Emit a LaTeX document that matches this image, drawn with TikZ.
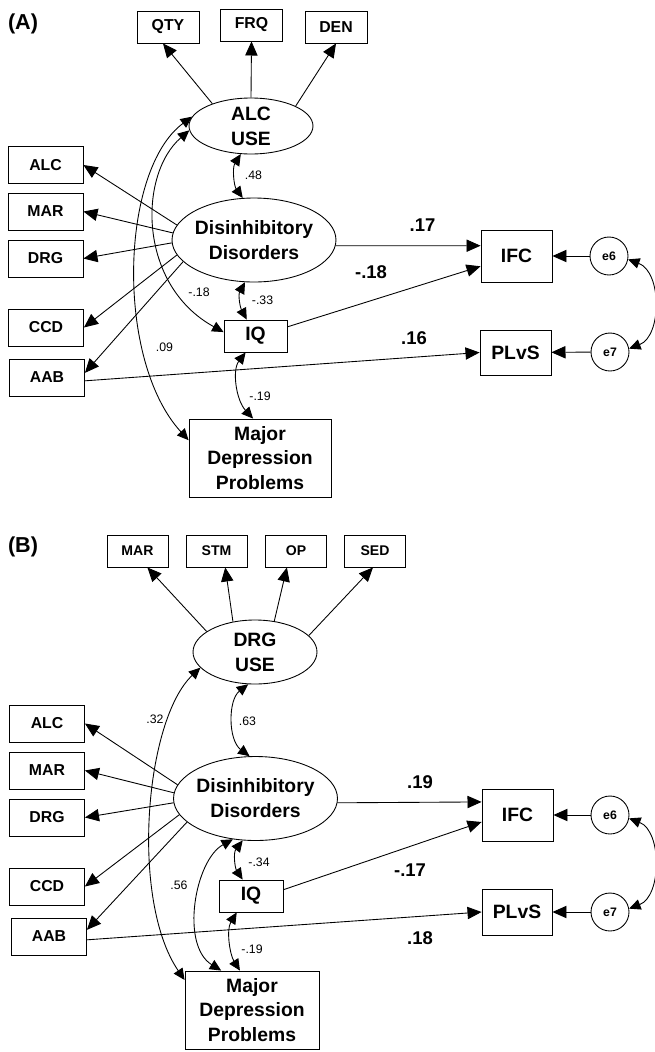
\documentclass[tikz,border=0pt]{standalone}
\usepackage{fontspec}
\setmainfont{Liberation Sans}
\usetikzlibrary{arrows.meta,shapes.geometric}

\tikzset{
  ttl/.style={font=\fontsize{12.3}{14}\selectfont\bfseries, inner sep=0pt},
  obs/.style={draw, rectangle, inner sep=0pt, minimum width=1.5cm, minimum height=0.74cm, font=\fontsize{9}{11}\selectfont\bfseries},
  big/.style={draw, rectangle, inner sep=0pt, align=center, font=\fontsize{11}{13.8}\selectfont\bfseries},
  lat/.style={draw, ellipse, inner sep=-2pt, align=center, font=\fontsize{11}{14.3}\selectfont\bfseries},
  err/.style={draw, circle, inner sep=0pt, minimum size=0.76cm, font=\fontsize{7}{8}\selectfont\bfseries},
  reg/.style={-{Triangle[length=8pt,width=7pt]}},
  cov/.style={{Triangle[length=6.5pt,width=6pt]}-{Triangle[length=6.5pt,width=6pt]}},
  coef/.style={font=\fontsize{10.5}{12}\selectfont\bfseries, inner sep=0pt},
  corr/.style={font=\fontsize{7}{8}\selectfont, inner sep=0pt}
}

\begin{document}
\begin{tikzpicture}[x=0.02cm, y=-0.02cm, line width=0.5pt]
\useasboundingbox (0,0) rectangle (654,1052);

% (A)
\node (labA) at (23,24) [ttl] {(A)};
\foreach \n/\t/\x/\y in {qtyA/QTY/168/27, frqA/FRQ/251.5/25, denA/DEN/336/27}
    \node (\n) at (\x,\y) [obs, minimum width=1.24cm, minimum height=0.64cm] {\t};
\node (alcA) at (251,126) [lat, minimum width=2.48cm, minimum height=1.12cm] {ALC\\USE};
\node (disA) at (254,240) [lat, minimum width=3.28cm, minimum height=1.68cm] {Disinhibitory\\Disorders};
\foreach \n/\t/\x/\y in {alcLA/ALC/45.5/165, marLA/MAR/45.5/211.5, drgLA/DRG/45.5/258.5, ccdLA/CCD/46/327.5, aabLA/AAB/47/377.5}
    \node (\n) at (\x,\y) [obs] {\t};
\node (iqA) at (255.5,336) [big, minimum width=1.26cm, minimum height=0.64cm] {IQ};
\node (mdpA) at (260,458) [big, minimum width=2.84cm, minimum height=1.56cm] {Major\\Depression\\Problems};
\node (ifcA) at (516.5,256) [big, minimum width=1.42cm, minimum height=1.04cm] {IFC};
\node (plvsA) at (515.5,352.5) [big, minimum width=1.42cm, minimum height=0.9cm] {PLvS};
\node (e6A) at (609,256) [err] {e6};
\node (e7A) at (610,352) [err] {e7};

\draw [reg] (alcA.150) -- (qtyA.253);
\draw [reg] (alcA.north) -- (frqA.south);
\draw [reg] (alcA.24) -- (denA.south);
\foreach \ang/\tgt in {169/alcLA.east, 175/marLA.east, 182/drgLA.east, 191/ccdLA.east, 197/aabLA.7}
    \draw [reg] (disA.\ang) -- (\tgt);
\draw [reg] (disA.-4) -- (ifcA.164);
\draw [reg] (iqA.16) -- (ifcA.196);
\draw [reg] (aabLA.-5) -- (plvsA.west);
\draw [reg] (e6A) -- (ifcA);
\draw [reg] (e7A) -- (plvsA);

\draw [cov] (alcA.250) .. controls (232,168) and (234,186) .. (disA.105);
\draw [cov] (disA.258) .. controls (238,295) and (240,307) .. (iqA.118);
\draw [cov] (iqA.239) .. controls (232,370) and (236,400) .. (mdpA.100);
\draw [cov] (alcA.184) .. controls (138,175) and (138,285) .. (iqA.173);
\draw [cov] (alcA.171) .. controls (120,170) and (115,360) .. (mdpA.166);
\draw [cov] (e6A.-10) .. controls (662,272) and (662,336) .. (e7A.10);

\node (c48A) at (253.5,175) [corr] {.48};
\node (c33A) at (262.5,300) [corr] {-.33};
\node (c18A) at (199,292) [corr] {-.18};
\node (c09A) at (164.5,347) [corr] {.09};
\node (c19A) at (260,396) [corr] {-.19};
\node (r17A) at (422.5,225) [coef] {.17};
\node (r18A) at (371,272) [coef] {-.18};
\node (r16A) at (414,338) [coef] {.16};

% (B)
\node (labB) at (23,547) [ttl] {(B)};
\foreach \n/\t/\x in {marTB/MAR/137.5, stmB/STM/216.5, opB/OP/296, sedB/SED/375}
    \node (\n) at (\x,551) [obs, minimum width=1.22cm, minimum height=0.64cm, font=\fontsize{8}{10}\selectfont\bfseries] {\t};
\node (drgB) at (255,652) [lat, minimum width=2.48cm, minimum height=1.28cm] {DRG\\USE};
\node (disB) at (255.5,798.5) [lat, minimum width=3.28cm, minimum height=1.68cm] {Disinhibitory\\Disorders};
\foreach \n/\t/\x/\y in {alcLB/ALC/47/723.5, marLB/MAR/47/770.5, drgLB/DRG/47/817.5, ccdLB/CCD/47/886.5, aabLB/AAB/49/936.5}
    \node (\n) at (\x,\y) [obs] {\t};
\node (iqB) at (251,896) [big, minimum width=1.28cm, minimum height=0.64cm] {IQ};
\node (mdpB) at (252,1010) [big, minimum width=2.68cm, minimum height=1.56cm] {Major\\Depression\\Problems};
\node (ifcB) at (517.5,815) [big, minimum width=1.42cm, minimum height=1.04cm] {IFC};
\node (plvsB) at (517,912) [big, minimum width=1.4cm, minimum height=0.92cm] {PLvS};
\node (e6B) at (610,815) [err] {e6};
\node (e7B) at (610,912) [err] {e7};

\draw [reg] (drgB.157) -- (marTB.301);
\draw [reg] (drgB.126) -- (stmB.298);
\draw [reg] (drgB.58) -- (opB.241);
\draw [reg] (drgB.17) -- (sedB.263);
\foreach \ang/\tgt in {170/alcLB.east, 176/marLB.east, 183/drgLB.east, 192/ccdLB.east, 199/aabLB.10}
    \draw [reg] (disB.\ang) -- (\tgt);
\draw [reg] (disB.-3) -- (ifcB.160);
\draw [reg] (iqB.11) -- (ifcB.191);
\draw [reg] (aabLB.-5) -- (plvsB.west);
\draw [reg] (e6B) -- (ifcB);
\draw [reg] (e7B) -- (plvsB);

\draw [cov] (drgB.258) .. controls (228,700) and (228,740) .. (disB.98);
\draw [cov] (disB.253) .. controls (233,853) and (235,868) .. (iqB.117);
\draw [cov] (iqB.229) .. controls (226,930) and (230,955) .. (mdpB.107);
\draw [cov] (disB.241) .. controls (195,860) and (180,945) .. (mdpB.128);
\draw [cov] (drgB.196) .. controls (145,720) and (130,900) .. (mdpB.156);
\draw [cov] (e6B.-10) .. controls (662,831) and (662,896) .. (e7B.10);

\node (c32B) at (155,719) [corr] {.32};
\node (c63B) at (247.5,721) [corr] {.63};
\node (c34B) at (259,862) [corr] {-.34};
\node (c56B) at (179,885) [corr] {.56};
\node (c19B) at (252,949) [corr] {-.19};
\node (r19B) at (420,782) [coef] {.19};
\node (r17B) at (410,870) [coef] {-.17};
\node (r18B) at (420,938) [coef] {.18};
\end{tikzpicture}
\end{document}
